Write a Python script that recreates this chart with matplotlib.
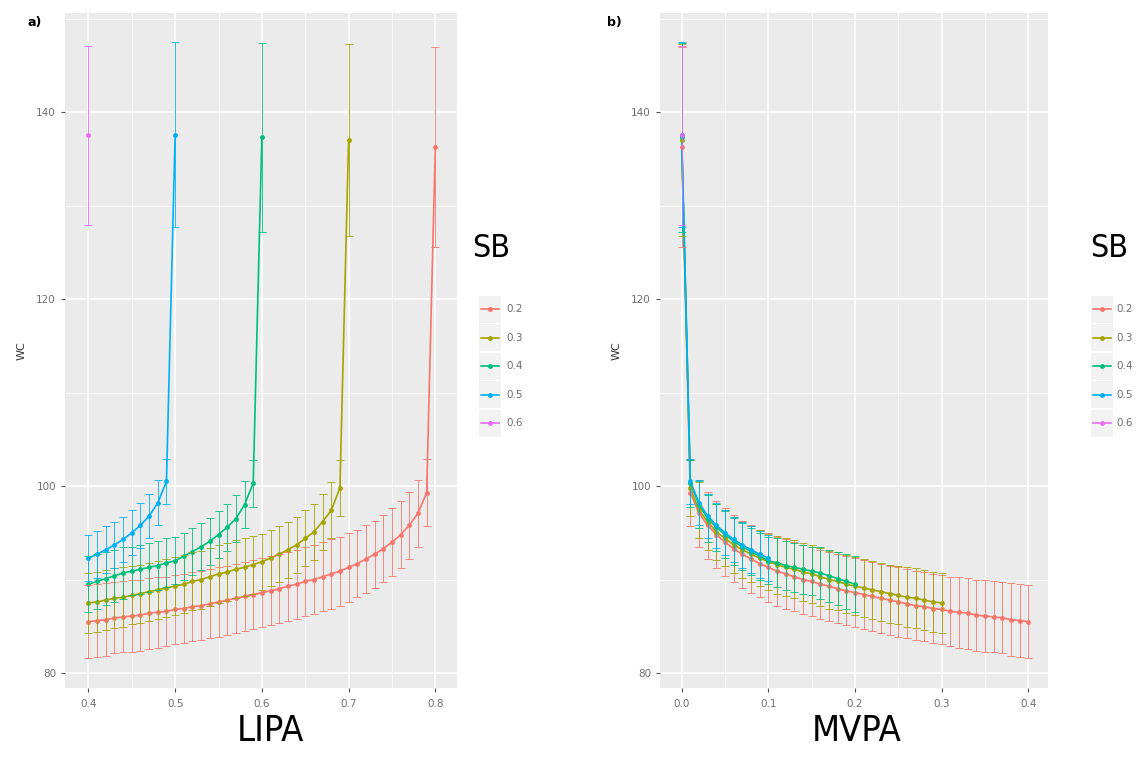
import numpy as np
import matplotlib.pyplot as plt

# SB groups and ggplot default hue colours
sb_levels = ['0.2', '0.3', '0.4', '0.5', '0.6']
colors = ['#F8766D', '#A3A500', '#00BF7D', '#00B0F6', '#E76BF3']
sb_values = [0.2, 0.3, 0.4, 0.5, 0.6]

# predicted WC per SB, at MVPA = 0.00, 0.01, 0.02, ...  (LIPA = 1 - SB - MVPA)
wc_02 = [136.3, 99.3, 97.1, 95.8, 94.8, 94.0, 93.3, 92.7, 92.2, 91.7,
         91.3, 90.9, 90.6, 90.3, 90.0, 89.8, 89.5, 89.3, 89.0, 88.8,
         88.6, 88.4, 88.2, 88.0, 87.8, 87.6, 87.4, 87.2, 87.1, 86.9,
         86.8, 86.6, 86.5, 86.4, 86.2, 86.1, 86.0, 85.9, 85.7, 85.6, 85.5]
ci_02 = [10.7, 3.6, 3.6, 3.6, 3.6, 3.6, 3.6, 3.6, 3.6, 3.6,
         3.7, 3.7, 3.7, 3.7, 3.7, 3.7, 3.7, 3.7, 3.7, 3.7,
         3.7, 3.7, 3.7, 3.7, 3.7, 3.7, 3.7, 3.7, 3.7, 3.7,
         3.7, 3.7, 3.8, 3.8, 3.8, 3.8, 3.8, 3.8, 3.9, 3.9, 3.9]

wc_03 = [137.0, 99.8, 97.4, 96.2, 95.1, 94.4, 93.7, 93.2, 92.7, 92.3,
         91.9, 91.6, 91.3, 91.1, 90.8, 90.6, 90.3, 90.0, 89.8, 89.5,
         89.3, 89.1, 88.9, 88.7, 88.5, 88.3, 88.1, 88.0, 87.8, 87.6, 87.5]
ci_03 = [10.3, 3.0, 3.0, 3.0, 3.0, 3.0, 3.0, 3.0, 3.0, 3.0,
         3.0, 3.1, 3.1, 3.1, 3.1, 3.1, 3.1, 3.1, 3.1, 3.1,
         3.1, 3.1, 3.1, 3.1, 3.1, 3.1, 3.2, 3.2, 3.2, 3.2, 3.2]

wc_04 = [137.3, 100.3, 98.0, 96.5, 95.6, 94.8, 94.1, 93.5, 93.0, 92.5,
         92.0, 91.8, 91.5, 91.3, 91.1, 90.9, 90.7, 90.4, 90.1, 89.8, 89.5]
ci_04 = [10.1, 2.5, 2.5, 2.5, 2.5, 2.5, 2.5, 2.5, 2.5, 2.5,
         2.5, 2.6, 2.6, 2.6, 2.6, 2.6, 2.8, 2.8, 2.8, 2.9, 3.0]

wc_05 = [137.6, 100.5, 98.2, 96.8, 95.8, 95.0, 94.3, 93.7, 93.2, 92.7, 92.3]
ci_05 = [9.9, 2.4, 2.4, 2.4, 2.4, 2.4, 2.4, 2.5, 2.5, 2.5, 2.5]

wc_06 = [137.5]
ci_06 = [9.6]

wc_all = [wc_02, wc_03, wc_04, wc_05, wc_06]
ci_all = [ci_02, ci_03, ci_04, ci_05, ci_06]

W, H = 1137, 765
fig = plt.figure(figsize=(W / 100, H / 100), dpi=100)
ax1 = fig.add_axes([65 / W, 1 - 688 / H, (457 - 65) / W, (688 - 13) / H])
ax2 = fig.add_axes([660 / W, 1 - 688 / H, (1048 - 660) / W, (688 - 13) / H])


def style(ax, ticks, labels, minor, xlim):
    ax.set_facecolor('#EBEBEB')
    for s in ax.spines.values():
        s.set_visible(False)
    ax.set_xlim(xlim)
    ax.set_ylim(78.4, 150.6)
    ax.set_xticks(ticks)
    ax.set_xticklabels(labels)
    ax.set_xticks(minor, minor=True)
    ax.set_yticks([80, 100, 120, 140])
    ax.set_yticks([90, 110, 130, 150], minor=True)
    ax.grid(which='major', color='white', lw=1.1)
    ax.grid(which='minor', color='white', lw=0.5)
    ax.set_axisbelow(True)
    ax.tick_params(which='major', length=3, width=0.8, color='#555555',
                   labelsize=7.5, labelcolor='#6E6E6E')
    ax.tick_params(axis='x', pad=5)
    ax.tick_params(which='minor', length=0)
    ax.set_ylabel('WC', fontsize=8, color='#333333', labelpad=7)


style(ax1, [0.4, 0.5, 0.6, 0.7, 0.8], ['0.4', '0.5', '0.6', '0.7', '0.8'],
      [0.45, 0.55, 0.65, 0.75], (0.373, 0.825))
style(ax2, [0.0, 0.1, 0.2, 0.3, 0.4], ['0.0', '0.1', '0.2', '0.3', '0.4'],
      [0.05, 0.15, 0.25, 0.35], (-0.025, 0.4225))

for sb, wc, ci, c in zip(sb_values, wc_all, ci_all, colors):
    wc = np.array(wc)
    ci = np.array(ci)
    mvpa = np.arange(len(wc)) * 0.01
    lipa = 1 - sb - mvpa
    for ax, x in [(ax1, lipa), (ax2, mvpa)]:
        ax.plot(x, wc, color=c, lw=1.2, zorder=3)
        ax.plot(x, wc, 'o', color=c, ms=3.5, mec='none', zorder=4)
        ax.errorbar(x, wc, yerr=ci, fmt='none', ecolor=c, elinewidth=0.7,
                    capsize=2.8, capthick=0.7, alpha=0.85, zorder=5)

# overlay in pixel coordinates for panel tags, axis titles and legends
ov = fig.add_axes([0, 0, 1, 1], facecolor='none')
ov.set_xlim(0, W)
ov.set_ylim(H, 0)
ov.axis('off')

ov.text(28, 22, 'a)', fontsize=9, fontweight='bold', va='center')
ov.text(607, 22, 'b)', fontsize=9, fontweight='bold', va='center')

narrow = dict(family='DejaVu Sans', stretch='condensed')
ov.text(270, 731, 'LIPA', fontsize=26, ha='center', va='center', **narrow)
ov.text(857, 731, 'MVPA', fontsize=26, ha='center', va='center', **narrow)

# legend: (title x, key left x, label x)
for tx, kx, lx in [(472, 479, 506), (1090, 1091, 1116)]:
    ov.text(tx, 248, 'SB', fontsize=23, ha='left', va='center', **narrow)
    for i, (lab, c) in enumerate(zip(sb_levels, colors)):
        yc = 309 + i * 28.5
        ov.add_patch(plt.Rectangle((kx, yc - 13.5), 22, 27,
                                   color='#F2F2F2', lw=0))
        ov.plot([kx + 2, kx + 20], [yc, yc], color=c, lw=1.2)
        ov.plot([kx + 11], [yc], 'o', color=c, ms=3.5, mec='none')
        ov.text(lx, yc, lab, fontsize=7.5, color='#6E6E6E', va='center')

fig.savefig('out.png', dpi=100)
